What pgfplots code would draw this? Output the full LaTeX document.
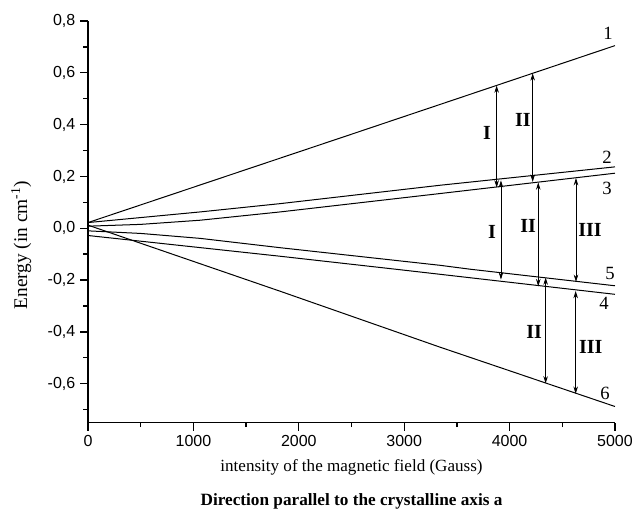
\documentclass[border=0pt]{standalone}
\usepackage{fontspec}
\setmainfont{Liberation Serif}
\newfontfamily\arial{Liberation Sans}
\usepackage{pgfplots}
\pgfplotsset{compat=1.18}
\usetikzlibrary{arrows.meta}

\begin{document}
\begin{tikzpicture}[>={Stealth[length=5.5pt,width=3.4pt]}]
\begin{axis}[
    name=ax,
    scale only axis,
    width=395pt,
    height=301pt,
    xmin=0, xmax=5000,
    ymin=-0.75, ymax=0.8,
    axis x line*=bottom,
    axis y line*=left,
    axis line style={line width=1.1pt},
    xtick={0,1000,2000,3000,4000,5000},
    minor xtick={500,1500,2500,3500,4500},
    ytick={-0.6,-0.4,-0.2,0,0.2,0.4,0.6,0.8},
    minor ytick={-0.7,-0.5,-0.3,-0.1,0.1,0.3,0.5,0.7},
    tick align=outside,
    major tick length=6pt,
    minor tick length=3.5pt,
    tick style={line width=1pt, black},
    ticklabel style={font=\arial\fontsize{12}{14}\selectfont},
    /pgf/number format/assume math mode=true,
    scaled ticks=false,
    yticklabel style={/pgf/number format/.cd, fixed, fixed zerofill, precision=1, use comma},
    xticklabel style={/pgf/number format/.cd, fixed, 1000 sep={}},
    xlabel={intensity of the magnetic field (Gauss)},
    xlabel style={font=\fontsize{12.8}{15}\selectfont, at={(rel axis cs:0.5,0)}, anchor=base, yshift=-37pt},
    ylabel={Energy (in cm\textsuperscript{-1})},
    ylabel style={font=\fontsize{14.5}{16}\selectfont, at={(rel axis cs:-0.1266,0.442)}, anchor=center},
    clip=false,
    lvl/.style={black, line width=0.75pt, no markers},
    tr/.style={black, line width=0.6pt, no markers, <->},
]
% energy levels
\addplot[lvl] coordinates {(0,0.022) (2500,0.363) (5000,0.705)};
\addplot[lvl] coordinates {(0,0.022) (1063,0.063) (1822,0.095) (3340,0.166) (5000,0.237)};
\addplot[lvl] coordinates {(0,0.008) (500,0.015) (1063,0.031) (1822,0.063) (3340,0.134) (5000,0.2125)};
\addplot[lvl] coordinates {(0,-0.010) (500,-0.020) (1063,-0.039) (1822,-0.075) (3340,-0.143) (3624,-0.158) (5000,-0.222)};
\addplot[lvl] coordinates {(0,-0.028) (1822,-0.108) (2960,-0.160) (5000,-0.255)};
\addplot[lvl] coordinates {(0,0.012) (1822,-0.243) (3340,-0.459) (5000,-0.688)};
% transitions
\addplot[tr] coordinates {(3877,0.551) (3877,0.157)};
\addplot[tr] coordinates {(4219,0.598) (4219,0.179)};
\addplot[tr] coordinates {(3918,0.185) (3918,-0.198)};
\addplot[tr] coordinates {(4272,0.177) (4272,-0.224)};
\addplot[tr] coordinates {(4630,0.194) (4630,-0.207)};
\addplot[tr] coordinates {(4342,-0.190) (4342,-0.599)};
\addplot[tr] coordinates {(4627,-0.242) (4627,-0.639)};
% level numbers
\node[font=\fontsize{14}{16}\selectfont] at (axis cs:4935,0.753) {1};
\node[font=\fontsize{14}{16}\selectfont] at (axis cs:4924,0.275) {2};
\node[font=\fontsize{14}{16}\selectfont] at (axis cs:4924,0.155) {3};
\node[font=\fontsize{14}{16}\selectfont] at (axis cs:4953,-0.173) {5};
\node[font=\fontsize{14}{16}\selectfont] at (axis cs:4896,-0.289) {4};
\node[font=\fontsize{14}{16}\selectfont] at (axis cs:4905,-0.637) {6};
% transition labels
\node[font=\bfseries\fontsize{15}{17}\selectfont] at (axis cs:3786,0.367) {I};
\node[font=\bfseries\fontsize{15}{17}\selectfont] at (axis cs:4127,0.417) {II};
\node[font=\bfseries\fontsize{15}{17}\selectfont] at (axis cs:3833,-0.014) {I};
\node[font=\bfseries\fontsize{15}{17}\selectfont] at (axis cs:4175,0.008) {II};
\node[font=\bfseries\fontsize{15}{17}\selectfont] at (axis cs:4763,-0.006) {III};
\node[font=\bfseries\fontsize{15}{17}\selectfont] at (axis cs:4232,-0.400) {II};
\node[font=\bfseries\fontsize{15}{17}\selectfont] at (axis cs:4770,-0.459) {III};
% caption line
\node[font=\bfseries\fontsize{12.9}{15}\selectfont, anchor=base] at (rel axis cs:0.5,0) [yshift=-62pt] {Direction parallel to the crystalline axis a};
\end{axis}
\pgfresetboundingbox
\path ([shift={(-66pt,-67pt)}]ax.south west) rectangle ([shift={(12.75pt,15.75pt)}]ax.north east);
\end{tikzpicture}
\end{document}
